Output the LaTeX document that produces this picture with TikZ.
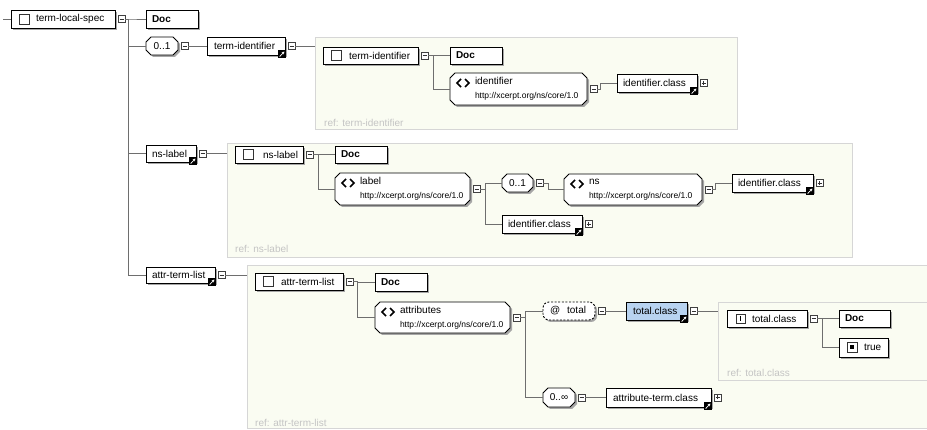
\documentclass[tikz,border=0pt]{standalone}
\usepackage{fontspec}
\setmainfont{Liberation Sans}
\usetikzlibrary{shadows,arrows.meta}
\pgfdeclarelayer{back}
\pgfdeclarelayer{background}
\pgfsetlayers{back,background,main}

\definecolor{refbg}{RGB}{250,252,242}
\definecolor{refline}{RGB}{214,214,214}
\definecolor{reftxt}{RGB}{196,196,196}
\definecolor{wire}{RGB}{110,110,110}
\definecolor{typeblue}{RGB}{184,211,240}
\colorlet{boxshadow}{black!35}

\newcommand\urlsz{\fontsize{8.5}{14}\selectfont}

\tikzset{
  conn/.style={draw=wire, line width=0.9pt},
  plain/.style={inner sep=0pt, outer sep=0pt, align=left, anchor=north west,
    font=\fontsize{10}{12}\selectfont},
  box/.style={plain, draw=black, line width=0.9pt, fill=white,
    general shadow={fill=boxshadow, shadow xshift=2pt, shadow yshift=-2pt}},
  twoline/.style={font=\fontsize{10}{14}\selectfont},
  attrbox/.style={box, rounded corners=6pt, dash pattern=on 2pt off 1.6pt},
  refbox/.style={draw=refline, fill=refbg, line width=0.9pt, inner sep=0pt,
    outer sep=0pt, anchor=north west},
  reftext/.style={text=reftxt, inner sep=0pt, anchor=base west,
    font=\fontsize{10}{12}\selectfont},
  pm/.style={draw=black!75, fill=white, line width=0.6pt, minimum size=7pt,
    inner sep=0pt, outer sep=0pt, anchor=west},
  pmline/.style={draw=black!80, line width=0.7pt},
  icon/.style={draw=black!80, line width=0.8pt, fill=white},
}

% a box given by its left, top, right and bottom edges
\newcommand\elnode[7]{%
  \pgfmathsetmacro\bw{#5-#3}\pgfmathsetmacro\bh{#6-#4}%
  \node[#1, text width=\bw pt, minimum height=\bh pt] (#2) at (#3,#4) {#7};}
\newcommand\refnode[5]{%
  \pgfmathsetmacro\bw{#4-#2}\pgfmathsetmacro\bh{#5-#3}%
  \node[refbox, minimum width=\bw pt, minimum height=\bh pt] (#1) at (#2,#3) {};}

% outline with cut corners around a node
\newcommand\chpoly[3]{%
  ([shift={(5+#2,#3)}]#1.north west) -- ([shift={(-5+#2,#3)}]#1.north east)
  -- ([shift={(#2,5+#3)}]#1.north east) -- ([shift={(#2,-5+#3)}]#1.south east)
  -- ([shift={(-5+#2,#3)}]#1.south east) -- ([shift={(5+#2,#3)}]#1.south west)
  -- ([shift={(#2,-5+#3)}]#1.south west) -- ([shift={(#2,5+#3)}]#1.north west)
  -- cycle}
\newcommand\chamfer[2][white]{%
  \begin{pgfonlayer}{background}
    \fill[boxshadow] \chpoly{#2}{2}{2};
    \filldraw[fill=#1, draw=black, line width=0.9pt] \chpoly{#2}{0}{0};
  \end{pgfonlayer}}

% collapse / expand buttons
\newcommand\pmminus[2]{%
  \node[pm] (#1) at ([xshift=3pt]#2.east) {};
  \draw[pmline] ([xshift=1.5pt]#1.west) -- ([xshift=-1.5pt]#1.east);}
\newcommand\pmplus[2]{%
  \pmminus{#1}{#2}
  \draw[pmline] ([yshift=1.5pt]#1.south) -- ([yshift=-1.5pt]#1.north);}

% small glyphs inside the boxes
\newcommand\cplx[1]{\draw[icon] ([shift={(8,-5)}]#1.west) rectangle ++(10,10);}
\newcommand\simpleicon[1]{%
  \draw[icon] ([shift={(9,-4.5)}]#1.west) rectangle ++(9,9);
  \draw[black, line width=0.9pt] ([shift={(13.5,-2.5)}]#1.west) -- ++(0,5);}
\newcommand\enumicon[1]{%
  \draw[icon] ([shift={(8,-5)}]#1.west) rectangle ++(10,10);
  \fill[black] ([shift={(11,-2)}]#1.west) rectangle ++(4,4);}
\newcommand\elicon[1]{%
  \draw[black, line width=1.5pt] ([shift={(11,6)}]#1.north west) -- ++(-4,4) -- ++(4,4);
  \draw[black, line width=1.5pt] ([shift={(15,6)}]#1.north west) -- ++(4,4) -- ++(-4,4);}
\newcommand\shortcut[1]{%
  \fill[black] ([shift={(-7,-5)}]#1.south east) rectangle ([shift={(1,3)}]#1.south east);
  \draw[white, line width=0.8pt, -{Stealth[length=2.6pt,width=3pt]}]
    ([shift={(-5.3,1.5)}]#1.south east) -- ([shift={(-0.6,-3.4)}]#1.south east);}

\begin{document}
\begin{tikzpicture}[x=1pt, y=-1pt]
\useasboundingbox (0,0) rectangle (927,430);

% page and reference frames
\begin{pgfonlayer}{back}
  \fill[white] (0,0) rectangle (927,430);
  \refnode{R1}{315}{37}{737}{129}
  \refnode{R2}{227}{143}{852}{257}
  \refnode{R3}{247}{265}{931}{428}
  \refnode{R4}{718}{302}{931}{380}
\end{pgfonlayer}
\node[reftext] (R1-t) at (324,127) {ref: term-identifier};
\node[reftext] (R2-t) at (235,253) {ref: ns-label};
\node[reftext] (R3-t) at (255,426) {ref: attr-term-list};
\node[reftext] (R4-t) at (727,377) {ref: total.class};

% root
\coordinate (stub) at (3,19);
\elnode{box}{tls}{11}{10}{115}{28}{\mbox{\hspace*{25pt}term-local-spec}}
\cplx{tls}
\pmminus{tls-m}{tls}
\elnode{box}{doc1}{146}{10}{198}{28}{\mbox{\hspace*{6pt}\textbf{Doc}}}

% term-identifier branch
\elnode{plain,align=center}{opt1}{146}{37}{178}{55}{0..1}
\chamfer{opt1}
\pmminus{opt1-m}{opt1}
\elnode{box}{tid}{207}{37}{285}{55}{\mbox{\hspace*{7pt}term-identifier}}
\shortcut{tid}
\pmminus{tid-m}{tid}

\elnode{box}{tid2}{323}{47}{418}{64}{\mbox{\hspace*{26pt}term-identifier}}
\cplx{tid2}
\pmminus{tid2-m}{tid2}
\elnode{box}{doc2}{450}{47}{502}{64}{\mbox{\hspace*{6pt}\textbf{Doc}}}
\elnode{plain,twoline}{ident}{450}{73}{587}{105}{\mbox{\hspace*{25pt}identifier}\\\mbox{\hspace*{25pt}\urlsz http://xcerpt.org/ns/core/1.0}}
\chamfer{ident}
\elicon{ident}
\pmminus{ident-m}{ident}
\elnode{box}{idc1}{617}{74}{697}{92}{\mbox{\hspace*{6pt}identifier.class}}
\shortcut{idc1}
\pmplus{idc1-p}{idc1}

% ns-label branch
\elnode{box}{nsl}{146}{145}{196}{162}{\mbox{\hspace*{6pt}ns-label}}
\shortcut{nsl}
\pmminus{nsl-m}{nsl}

\elnode{box}{nsl2}{235}{146}{303}{163}{\mbox{\hspace*{28pt}ns-label}}
\cplx{nsl2}
\pmminus{nsl2-m}{nsl2}
\elnode{box}{doc3}{335}{146}{387}{163}{\mbox{\hspace*{6pt}\textbf{Doc}}}
\elnode{plain,twoline}{label}{335}{173}{470}{205}{\mbox{\hspace*{25pt}label}\\\mbox{\hspace*{25pt}\urlsz http://xcerpt.org/ns/core/1.0}}
\chamfer{label}
\elicon{label}
\pmminus{label-m}{label}
\elnode{plain,align=center}{opt2}{502}{174}{533}{192}{0..1}
\chamfer{opt2}
\pmminus{opt2-m}{opt2}
\elnode{plain,twoline}{ns}{564}{174}{702}{205}{\mbox{\hspace*{25pt}ns}\\\mbox{\hspace*{25pt}\urlsz http://xcerpt.org/ns/core/1.0}}
\chamfer{ns}
\elicon{ns}
\pmminus{ns-m}{ns}
\elnode{box}{idc2}{732}{174}{813}{192}{\mbox{\hspace*{6pt}identifier.class}}
\shortcut{idc2}
\pmplus{idc2-p}{idc2}
\elnode{box}{idc3}{502}{215}{582}{233}{\mbox{\hspace*{6pt}identifier.class}}
\shortcut{idc3}
\pmplus{idc3-p}{idc3}

% attr-term-list branch
\elnode{box}{atl}{146}{267}{215}{283}{\mbox{\hspace*{6pt}attr-term-list}}
\shortcut{atl}
\pmminus{atl-m}{atl}

\elnode{box}{atl2}{255}{273}{343}{290}{\mbox{\hspace*{26pt}attr-term-list}}
\cplx{atl2}
\pmminus{atl2-m}{atl2}
\elnode{box}{doc4}{375}{273}{427}{291}{\mbox{\hspace*{6pt}\textbf{Doc}}}
\elnode{plain,twoline}{attrs}{375}{302}{510}{333}{\mbox{\hspace*{25pt}attributes}\\\mbox{\hspace*{25pt}\urlsz http://xcerpt.org/ns/core/1.0}}
\chamfer{attrs}
\elicon{attrs}
\pmminus{attrs-m}{attrs}
\elnode{attrbox}{atotal}{543}{302}{595}{320}{\mbox{\hspace*{7pt}@\hspace{7pt}total}}
\pmminus{atotal-m}{atotal}
\elnode{box,fill=typeblue}{tcls}{626}{302}{687}{320}{\mbox{\hspace*{7pt}total.class}}
\shortcut{tcls}
\pmminus{tcls-m}{tcls}

\elnode{box}{tcls2}{727}{310}{807}{327}{\mbox{\hspace*{25pt}total.class}}
\simpleicon{tcls2}
\pmminus{tcls2-m}{tcls2}
\elnode{box}{doc5}{839}{310}{890}{327}{\mbox{\hspace*{6pt}\textbf{Doc}}}
\elnode{box}{true}{839}{338}{888}{357}{\mbox{\hspace*{25pt}true}}
\enumicon{true}

\elnode{plain,align=center}{inf}{543}{388}{575}{407}{0..∞}
\chamfer{inf}
\pmminus{inf-m}{inf}
\elnode{box}{atc}{606}{388}{711}{407}{\mbox{\hspace*{7pt}attribute-term.class}}
\shortcut{atc}
\pmplus{atc-p}{atc}

% connectors
\draw[conn] (stub) -- (tls.west);
\foreach \ch in {doc1,opt1,nsl,atl} \draw[conn] (tls-m.east) -- ++(3,0) |- (\ch.west);
\draw[conn] (opt1-m.east) -- (tid.west);
\draw[conn] (tid-m.east) -- (tid-m.east -| R1.west);
\draw[conn] (nsl-m.east) -- (nsl-m.east -| R2.west);
\draw[conn] (atl-m.east) -- (atl-m.east -| R3.west);
\foreach \ch in {doc2,ident} \draw[conn] (tid2-m.east) -- ++(5,0) |- (\ch.west);
\draw[conn] (ident-m.east) -- ++(3,0) |- (idc1.west);
\foreach \ch in {doc3,label} \draw[conn] (nsl2-m.east) -- ++(5,0) |- (\ch.west);
\foreach \ch in {opt2,idc3} \draw[conn] (label-m.east) -- ++(5,0) |- (\ch.west);
\draw[conn] (opt2-m.east) -- ++(5,0) |- (ns.west);
\draw[conn] (ns-m.east) -- ++(3,0) |- (idc2.west);
\foreach \ch in {doc4,attrs} \draw[conn] (atl2-m.east) -- ++(4,0) |- (\ch.west);
\foreach \ch in {atotal,inf} \draw[conn] (attrs-m.east) -- ++(5,0) |- (\ch.west);
\draw[conn] (atotal-m.east) -- (tcls.west);
\draw[conn] (tcls-m.east) -- (tcls-m.east -| R4.west);
\foreach \ch in {doc5,true} \draw[conn] (tcls2-m.east) -- ++(5,0) |- (\ch.west);
\draw[conn] (inf-m.east) -- (atc.west);
\end{tikzpicture}
\end{document}
